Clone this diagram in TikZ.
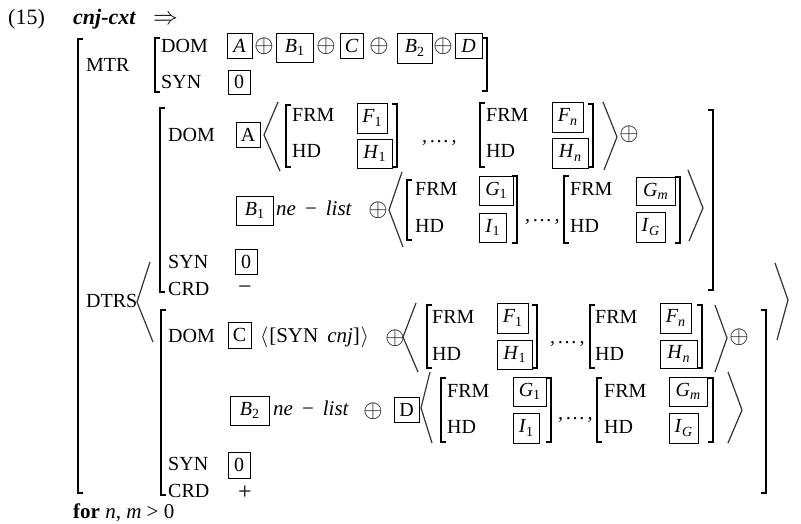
\documentclass[tikz,border=0pt]{standalone}
\usepackage{fontspec}
\setmainfont{Liberation Serif}
\newcommand\sbs[1]{\raisebox{-0.35ex}{\fontsize{14}{14}\selectfont #1}}
\tikzset{
 lbl/.style={anchor=base west, inner sep=0, font=\fontsize{20}{22}\selectfont},
 tagbox/.style={draw, line width=0.8pt, inner sep=0, outer sep=0, font=\fontsize{20}{22}\selectfont},
 brk/.style={line width=1.5pt},
 ang/.style={line width=1.2pt, black!80},
 op/.style={inner sep=0, font=\fontsize{24}{24}\selectfont},
}
\newcommand\tagb[6]{\node[tagbox, minimum width={(#4-#2)*1pt}, minimum height={(#5-#3)*1pt}] (#1) at ({(#2+#4)/2},{(#3+#5)/2}) {#6};}
\newcommand\lbrk[3]{\draw[brk] (#1+5,#2) -- (#1,#2) -- (#1,#3) -- (#1+5,#3);}
\newcommand\rbrk[3]{\draw[brk] (#1-5,#2) -- (#1,#2) -- (#1,#3) -- (#1-5,#3);}
\newcommand\oplsym{$\oplus$}
\begin{document}
\begin{tikzpicture}[x=1pt,y=-1pt]
\useasboundingbox (0,0) rectangle (801,524);
% header
\node[lbl, font=\fontsize{22}{24}\selectfont] (num) at (8,25) {(15)};
\node[lbl, font=\fontsize{22}{24}\selectfont\bfseries\itshape] (cxt) at (73,25) {cnj-cxt};
\node[lbl, font=\fontsize{25}{26}\selectfont] (arr) at (153,25) {$\Rightarrow$};
% outer bracket
\lbrk{78}{39}{493}
\node[lbl] (mtr) at (86,72) {MTR};
\node[lbl] (dtrs) at (86,307) {DTRS};
% MTR value
\lbrk{155}{38}{92}
\rbrk{487}{38}{91}
\node[lbl] (mdom) at (161,53) {DOM};
\node[lbl] (msyn) at (161,89) {SYN};
\tagb{mA}{227}{33}{252}{58}{\itshape A}
\node[op] (mo1) at (264,46) {\oplsym};
\tagb{mB1}{276}{33}{313}{62}{\textit{B}\sbs{1}}
\node[op] (mo2) at (326,46) {\oplsym};
\tagb{mC}{340}{33}{363}{58}{\itshape C}
\node[op] (mo3) at (379,46) {\oplsym};
\tagb{mB2}{397}{33}{432}{63}{\textit{B}\sbs{2}}
\node[op] (mo4) at (443,46) {\oplsym};
\tagb{mD}{455}{33}{482}{58}{\itshape D}
\tagb{m0}{228}{70}{250}{94}{0}
% DTRS angle
\draw[ang] (150,262) -- (137,302) -- (153,342);
\draw[ang] (775,263) -- (788,300) -- (777,340);
% ===== first daughter
\lbrk{160}{108}{292}
\rbrk{713}{110}{290}
\node[lbl] (adom) at (168,142) {DOM};
\tagb{aA}{236}{122}{260}{147}{A}
\draw[ang] (278,102) -- (264,135) -- (280,171);
\lbrk{286}{105}{167}
\node[lbl] (af1) at (292,122) {FRM};
\node[lbl] (ah1) at (292,158) {HD};
\tagb{aF1}{357}{103}{387}{133}{\textit{F}\sbs{1}}
\tagb{aH1}{357}{139}{392}{168}{\textit{H}\sbs{1}}
\rbrk{397}{104}{167}
\node[lbl, font=\fontsize{20}{22}\selectfont\itshape] (ae1) at (422,143) {,\,…\,,};
\lbrk{480}{103}{167}
\node[lbl] (af2) at (486,122) {FRM};
\node[lbl] (ah2) at (486,158) {HD};
\tagb{aFn}{552}{102}{583}{132}{\textit{F}\sbs{\textit{n}}}
\tagb{aHn}{552}{138}{588}{168}{\textit{H}\sbs{\textit{n}}}
\rbrk{593}{104}{167}
\draw[ang] (603,102) -- (617,137) -- (604,170);
\node[op] (ao1) at (629,134) {\oplsym};
% B1 row
\tagb{aB1}{236}{196}{273}{225}{\textit{B}\sbs{1}}
\node[lbl, font=\fontsize{21}{22}\selectfont\itshape] (anl) at (276,215) {ne\hspace{9pt}\upshape−\hspace{9pt}\itshape list};
\node[op] (ao2) at (378,210) {\oplsym};
\draw[ang] (402,172) -- (389,210) -- (403,247);
\lbrk{407}{180}{240}
\node[lbl] (af3) at (415,196) {FRM};
\node[lbl] (ah3) at (415,233) {HD};
\tagb{aG1}{479}{176}{513}{205}{\textit{G}\sbs{1}}
\tagb{aI1}{479}{213}{506}{242}{\textit{I}\sbs{1}}
\rbrk{517}{176}{243}
\node[lbl, font=\fontsize{20}{22}\selectfont\itshape] (ae2) at (525,222) {,\,…\,,};
\lbrk{564}{176}{243}
\node[lbl] (af4) at (570,196) {FRM};
\node[lbl] (ah4) at (570,233) {HD};
\tagb{aGm}{636}{177}{675}{205}{\textit{G}\sbs{\textit{m}}}
\tagb{aIG}{636}{212}{665}{242}{\textit{I}\sbs{\textit{G}}}
\rbrk{680}{177}{243}
\draw[ang] (688,170) -- (703,208) -- (689,241);
\node[lbl] (asyn) at (168,268) {SYN};
\tagb{a0}{235}{249}{257}{274}{0}
\node[lbl] (acrd) at (168,295) {CRD};
\node[op] (aminus) at (245,290) {−};
% ===== second daughter
\lbrk{161}{310}{495}
\rbrk{766}{310}{493}
\node[lbl] (bdom) at (168,342) {DOM};
\tagb{bC}{228}{322}{251}{348}{C}
\node[lbl, font=\fontsize{21}{22}\selectfont] (bsyn1) at (260,342) {$\langle$\hspace{1pt}[SYN\hspace{9pt}\textit{cnj}]\hspace{1pt}$\rangle$};
\node[op] (bo1) at (395,338) {\oplsym};
\draw[ang] (416,303) -- (403,337) -- (418,372);
\lbrk{427}{305}{368}
\node[lbl] (bf1) at (432,323) {FRM};
\node[lbl] (bh1) at (432,360) {HD};
\tagb{bF1}{497}{303}{528}{333}{\textit{F}\sbs{1}}
\tagb{bH1}{497}{340}{532}{369}{\textit{H}\sbs{1}}
\rbrk{537}{305}{368}
\node[lbl, font=\fontsize{20}{22}\selectfont\itshape] (be1) at (550,343) {,\,…\,,};
\lbrk{590}{305}{368}
\node[lbl] (bf2) at (595,323) {FRM};
\node[lbl] (bh2) at (595,360) {HD};
\tagb{bFn}{660}{303}{691}{333}{\textit{F}\sbs{\textit{n}}}
\tagb{bHn}{660}{340}{697}{368}{\textit{H}\sbs{\textit{n}}}
\rbrk{702}{305}{368}
\draw[ang] (715,305) -- (727,338) -- (715,372);
\node[op] (bo2) at (739,337) {\oplsym};
% B2 row
\tagb{bB2}{230}{396}{269}{425}{\textit{B}\sbs{2}}
\node[lbl, font=\fontsize{21}{22}\selectfont\itshape] (bnl) at (273,415) {ne\hspace{9pt}\upshape−\hspace{9pt}\itshape list};
\node[op] (bo3) at (373,411) {\oplsym};
\tagb{bD}{394}{397}{419}{422}{D}
\draw[ang] (430,372) -- (421,408) -- (432,443);
\lbrk{441}{378}{442}
\node[lbl] (bf3) at (447,397) {FRM};
\node[lbl] (bh3) at (447,433) {HD};
\tagb{bG1}{513}{377}{546}{406}{\textit{G}\sbs{1}}
\tagb{bI1}{513}{413}{539}{443}{\textit{I}\sbs{1}}
\rbrk{551}{378}{442}
\node[lbl, font=\fontsize{20}{22}\selectfont\itshape] (be2) at (558,419) {,\,…\,,};
\lbrk{597}{378}{442}
\node[lbl] (bf4) at (604,397) {FRM};
\node[lbl] (bh4) at (604,433) {HD};
\tagb{bGm}{669}{377}{707}{406}{\textit{G}\sbs{\textit{m}}}
\tagb{bIG}{669}{413}{698}{443}{\textit{I}\sbs{\textit{G}}}
\rbrk{713}{378}{442}
\draw[ang] (728,372) -- (742,410) -- (728,443);
\node[lbl] (bsyn) at (168,470) {SYN};
\tagb{b0}{228}{452}{250}{478}{0}
\node[lbl] (bcrd) at (168,497) {CRD};
\node[op] (bplus) at (245,493) {+};
% footer
\node[lbl, font=\fontsize{21}{22}\selectfont] (foot) at (73,518) {\textbf{for} \textit{n}, \textit{m} > 0};
\end{tikzpicture}
\end{document}
